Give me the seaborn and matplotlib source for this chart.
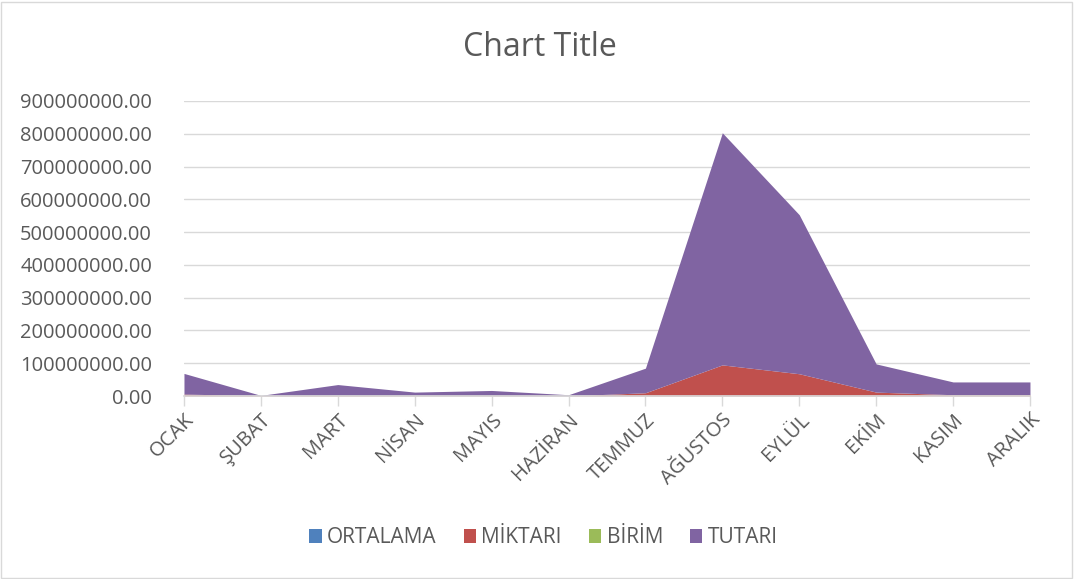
import numpy as np
import matplotlib
matplotlib.use("Agg")
import matplotlib.pyplot as plt
import seaborn as sns
from matplotlib.patches import Rectangle, Patch
from matplotlib.ticker import FuncFormatter

# Monthly values (stacked area)
months = ['OCAK', 'ŞUBAT', 'MART', 'NİSAN', 'MAYIS', 'HAZİRAN',
          'TEMMUZ', 'AĞUSTOS', 'EYLÜL', 'EKİM', 'KASIM', 'ARALIK']
ortalama = [0, 0, 0, 0, 0, 0, 0, 0, 0, 0, 0, 0]
miktari = [6e6, 1e6, 2e6, 1e6, 1e6, 0.5e6, 10e6, 95e6, 68e6, 12e6, 4e6, 4e6]
birim = [0, 0, 0, 0, 0, 0, 0, 0, 0, 0, 0, 0]
tutari = [63e6, 1e6, 33e6, 11e6, 16e6, 3.5e6, 75e6, 708e6, 485e6, 86e6, 39e6, 39e6]

series_names = ['ORTALAMA', 'MİKTARI', 'BİRİM', 'TUTARI']
colors = ['#4F81BD', '#C0504D', '#9BBB59', '#8064A2']

sns.set_theme(style="white")
plt.rcParams['font.family'] = ['Open Sans', 'DejaVu Sans']

fig = plt.figure(figsize=(10.74, 5.79), dpi=100)
ax = fig.add_axes([0.1713, 0.316, 0.7877, 0.5096])

x = np.arange(len(months))
ax.stackplot(x, ortalama, miktari, birim, tutari, colors=colors, linewidth=0)

ax.set_xlim(0, len(months) - 1)
ax.set_ylim(0, 900e6)
ax.set_yticks(np.arange(0, 900e6 + 1, 100e6))
ax.yaxis.set_major_formatter(FuncFormatter(lambda v, p: f"{v:.2f}"))
ax.set_xticks(x)
ax.set_xticklabels(months, rotation=45, ha='right', rotation_mode='anchor')

ax.grid(axis='y', color='#D9D9D9', linewidth=1)
ax.set_axisbelow(True)
for s in ['top', 'right', 'left']:
    ax.spines[s].set_visible(False)
ax.spines['bottom'].set_color('#D9D9D9')
ax.tick_params(axis='x', colors='#D9D9D9', length=7, width=1, direction='out',
               labelcolor='#595959', labelsize=14.5, pad=3, bottom=True)
ax.tick_params(axis='y', length=0, labelcolor='#595959', labelsize=14.5, pad=23)

fig.text(0.503, 0.918, 'Chart Title', ha='center', va='center',
         fontsize=23, color='#595959')

handles = [Patch(facecolor=c, edgecolor='none') for c in colors]
fig.legend(handles, series_names, loc='center', bbox_to_anchor=(0.506, 0.071),
           ncol=4, frameon=False, fontsize=15, labelcolor='#595959',
           handlelength=0.6, handleheight=0.6, handletextpad=0.25,
           columnspacing=1.3)

fig.patches.append(Rectangle((0.001, 0.002), 0.997, 0.995, transform=fig.transFigure,
                             fill=False, edgecolor='#D9D9D9', linewidth=1))

fig.savefig('out.png', dpi=100, facecolor='white')
